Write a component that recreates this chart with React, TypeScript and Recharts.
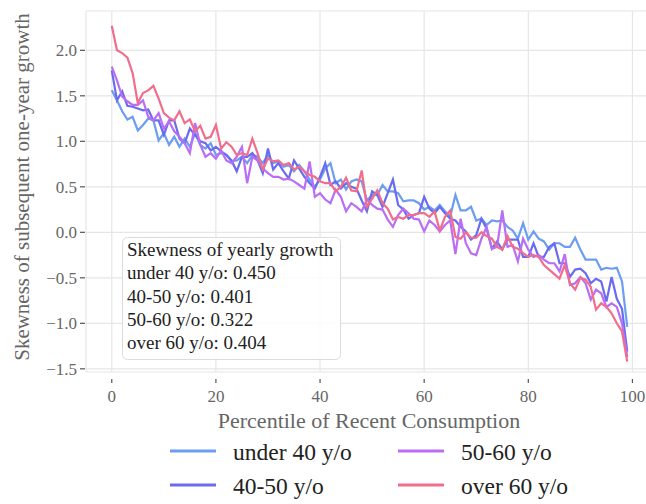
import { LineChart, Line, XAxis, YAxis, CartesianGrid, Legend } from "recharts";

// skewness of next-year consumption growth by percentile (0..99), one array per age group
const under40 = [
  1.56, 1.45, 1.33, 1.24, 1.27, 1.12, 1.18, 1.25, 1.23, 1.01, 1.09, 0.96, 1.05, 0.94, 1.03, 0.94, 1.09, 0.96, 0.92, 0.98,
  0.85, 0.87, 0.85, 0.78, 0.79, 0.83, 0.76, 0.85, 0.83, 0.76, 0.85, 0.76, 0.78, 0.72, 0.74, 0.67, 0.74, 0.67, 0.58, 0.5,
  0.58, 0.7, 0.76, 0.54, 0.58, 0.47, 0.56, 0.58, 0.56, 0.35, 0.41, 0.41, 0.52, 0.45, 0.45, 0.43, 0.34, 0.35, 0.35, 0.32,
  0.25, 0.28, 0.24, 0.3, 0.23, 0.17, 0.41, 0.24, 0.24, 0.28, 0.13, 0.15, 0.08, 0.13, 0.12, 0.13, 0.06, 0.02, -0.07, 0.1,
  -0.08, 0.01, -0.07, -0.1, -0.19, -0.12, -0.12, -0.16, -0.16, -0.06, -0.19, -0.3, -0.3, -0.3, -0.41, -0.39, -0.4, -0.39, -0.54, -1.04,
];
const age40to50 = [
  1.78, 1.45, 1.55, 1.39, 1.38, 1.36, 1.34, 1.35, 1.23, 1.23, 1.07, 1.23, 1.23, 1.03, 0.98, 1.14, 1.07, 1.0, 0.98, 0.9,
  0.94, 0.89, 0.85, 0.79, 0.67, 0.83, 0.83, 0.87, 0.79, 0.65, 0.92, 0.69, 0.76, 0.67, 0.59, 0.79, 0.7, 0.61, 0.54, 0.48,
  0.61, 0.76, 0.52, 0.56, 0.48, 0.54, 0.5, 0.48, 0.35, 0.23, 0.45, 0.41, 0.28, 0.43, 0.58, 0.3, 0.25, 0.15, 0.19, 0.21,
  0.39, 0.26, 0.21, 0.28, 0.21, 0.15, 0.13, 0.06, 0.01, -0.08, -0.03, 0.15, 0.04, -0.18, -0.1, -0.19, -0.08, -0.08, -0.08, -0.27,
  -0.27, -0.12, -0.27, -0.27, -0.16, -0.12, -0.34, -0.34, -0.49, -0.41, -0.4, -0.45, -0.56, -0.51, -0.54, -0.76, -0.49, -0.73, -0.84, -1.31,
];
const age50to60 = [
  1.82, 1.67, 1.49, 1.44, 1.4, 1.4, 1.45, 1.27, 1.23, 1.31, 1.14, 1.22, 1.11, 1.05, 0.98, 0.87, 1.2, 0.96, 0.83, 0.87,
  0.81, 0.9, 0.79, 0.76, 0.83, 0.94, 0.54, 0.83, 0.79, 0.7, 0.65, 0.61, 0.61, 0.58, 0.59, 0.56, 0.52, 0.48, 0.78, 0.39,
  0.43, 0.36, 0.32, 0.47, 0.39, 0.23, 0.32, 0.28, 0.23, 0.36, 0.3, 0.26, 0.25, 0.14, 0.06, 0.19, 0.26, 0.21, 0.15, 0.14,
  0.01, 0.13, 0.08, 0.01, 0.08, 0.13, -0.24, 0.15, -0.12, -0.23, -0.25, -0.07, 0.06, -0.18, -0.16, 0.24, -0.16, -0.14, -0.32, -0.07,
  -0.19, -0.27, -0.25, -0.3, -0.34, -0.34, -0.43, -0.24, -0.58, -0.56, -0.49, -0.56, -0.74, -0.63, -0.67, -0.82, -0.78, -0.82, -1.0, -1.37,
];
const over60 = [
  2.27, 2.0, 1.97, 1.92, 1.75, 1.42, 1.53, 1.56, 1.61, 1.47, 1.31, 1.26, 1.23, 1.33, 1.2, 1.24, 1.11, 1.17, 1.03, 1.05,
  1.18, 0.92, 0.99, 0.94, 0.85, 0.87, 0.85, 1.03, 0.87, 0.69, 0.81, 0.78, 0.79, 0.74, 0.76, 0.69, 0.72, 0.67, 0.63, 0.61,
  0.56, 0.54, 0.54, 0.45, 0.5, 0.6, 0.46, 0.45, 0.68, 0.28, 0.37, 0.46, 0.32, 0.26, 0.14, 0.17, 0.15, 0.19, 0.19, 0.21,
  0.21, 0.17, 0.23, 0.02, 0.17, 0.24, -0.05, -0.07, 0.0, -0.06, -0.06, 0.0, -0.04, -0.07, -0.16, -0.19, -0.04, -0.16, -0.18, -0.23,
  -0.27, -0.25, -0.27, -0.36, -0.41, -0.46, -0.51, -0.36, -0.56, -0.63, -0.5, -0.52, -0.6, -0.85, -0.78, -0.82, -0.89, -1.0, -1.09, -1.42,
];

const groupNames = ["under 40 y/o", "40-50 y/o", "50-60 y/o", "over 60 y/o"];
const groupColors = ["#6b9df0", "#6b6bf0", "#b96ef5", "#f06e8c"];
const yearlySkew = ["0.450", "0.401", "0.322", "0.404"];

const xTicks = [0, 20, 40, 60, 80, 100];
const yTicks = [-1.5, -1, -0.5, 0, 0.5, 1, 1.5, 2];

const keys = ["under40", "age40to50", "age50to60", "over60"];
const data = under40.map((v, i) => ({
  pct: i,
  under40: v,
  age40to50: age40to50[i],
  age50to60: age50to60[i],
  over60: over60[i],
}));

const FONT = "'Liberation Serif', 'DejaVu Serif', serif";
const TICK_COLOR = "#666";

const XTick = ({ x, y, payload }: any) => (
  <g>
    <line x1={x} x2={x} y1={y + 7} y2={y + 11} stroke="#555" strokeWidth={1.2} />
    <text x={x} y={y + 30} textAnchor="middle" fontSize={17} fontFamily={FONT} fill={TICK_COLOR}>
      {payload.value}
    </text>
  </g>
);

const fmtY = (v: number) => (v < 0 ? "\u2212" : "") + Math.abs(v).toFixed(1);

const YTick = ({ x, y, payload }: any) => (
  <g>
    <line x1={x - 6} x2={x - 1} y1={y} y2={y} stroke="#555" strokeWidth={1.2} />
    <text x={x - 9} y={y + 6} textAnchor="end" fontSize={17} fontFamily={FONT} fill={TICK_COLOR}>
      {fmtY(payload.value)}
    </text>
  </g>
);

// two-column legend, filled column by column in series order
const renderLegend = ({ payload }: any) => {
  const items = [...(payload || [])].sort(
    (a: any, b: any) => groupNames.indexOf(a.value) - groupNames.indexOf(b.value)
  );
  return (
    <svg width={646} height={74}>
      {items.map((p: any, i: number) => {
        const col = Math.floor(i / 2);
        const row = i % 2;
        const x0 = 170 + col * 228;
        const y0 = 21 + row * 34;
        return (
          <g key={p.value}>
            <line x1={x0} x2={x0 + 46} y1={y0} y2={y0} stroke={p.color} strokeWidth={3} />
            <text x={x0 + 63} y={y0 + 9} fontSize={23.5} fontFamily={FONT} fill="#222">
              {p.value}
            </text>
          </g>
        );
      })}
    </svg>
  );
};

export default function App() {
  return (
    <div style={{ position: "absolute", left: 0, top: 0, width: 646, height: 504, overflow: "hidden", background: "#fff" }}>
      <LineChart width={660} height={504} data={data} margin={{ top: 11, right: 7, bottom: 102, left: 46 }}>
        <CartesianGrid stroke="#e6e6e6" strokeWidth={1.2} />
        <XAxis
          type="number"
          dataKey="pct"
          domain={[-4.95, 103.95]}
          ticks={xTicks}
          allowDataOverflow
          axisLine={false}
          tickLine={false}
          tickSize={0}
          tickMargin={0}
          height={30}
          tick={<XTick />}
        />
        <YAxis
          type="number"
          domain={[-1.535, 2.432]}
          ticks={yTicks}
          allowDataOverflow
          axisLine={false}
          tickLine={false}
          tickSize={0}
          tickMargin={0}
          width={40}
          tick={<YTick />}
        />
        {keys.map((k, i) => (
          <Line
            key={k}
            dataKey={k}
            name={groupNames[i]}
            stroke={groupColors[i]}
            strokeWidth={2.2}
            dot={false}
            type="linear"
            isAnimationActive={false}
          />
        ))}
        <Legend
          layout="horizontal"
          verticalAlign="middle"
          align="center"
          content={renderLegend}
          wrapperStyle={{ left: 0, top: 430, width: 646, height: 74 }}
        />
      </LineChart>

      {/* axis titles and the summary box */}
      <svg width={646} height={504} style={{ position: "absolute", left: 0, top: 0, pointerEvents: "none" }}>
        <text x={369} y={428} textAnchor="middle" fontSize={22} fontFamily={FONT} fill={TICK_COLOR}>
          Percentile of Recent Consumption
        </text>
        <text
          transform="translate(29, 187) rotate(-90)"
          textAnchor="middle"
          fontSize={21}
          fontFamily={FONT}
          fill={TICK_COLOR}
        >
          Skewness of subsequent one-year growth
        </text>
        <rect x={122.5} y={237.5} width={218} height={122} rx={5} fill="#fff" fillOpacity={0.85} stroke="#dcdcdc" />
        <text x={127} y={256} fontSize={19} fontFamily={FONT} fill="#222">
          Skewness of yearly growth
        </text>
        {groupNames.map((g, i) => (
          <text key={g} x={127} y={279.3 + i * 23.3} fontSize={19} fontFamily={FONT} fill="#222">
            {g}: {yearlySkew[i]}
          </text>
        ))}
      </svg>
    </div>
  );
}
